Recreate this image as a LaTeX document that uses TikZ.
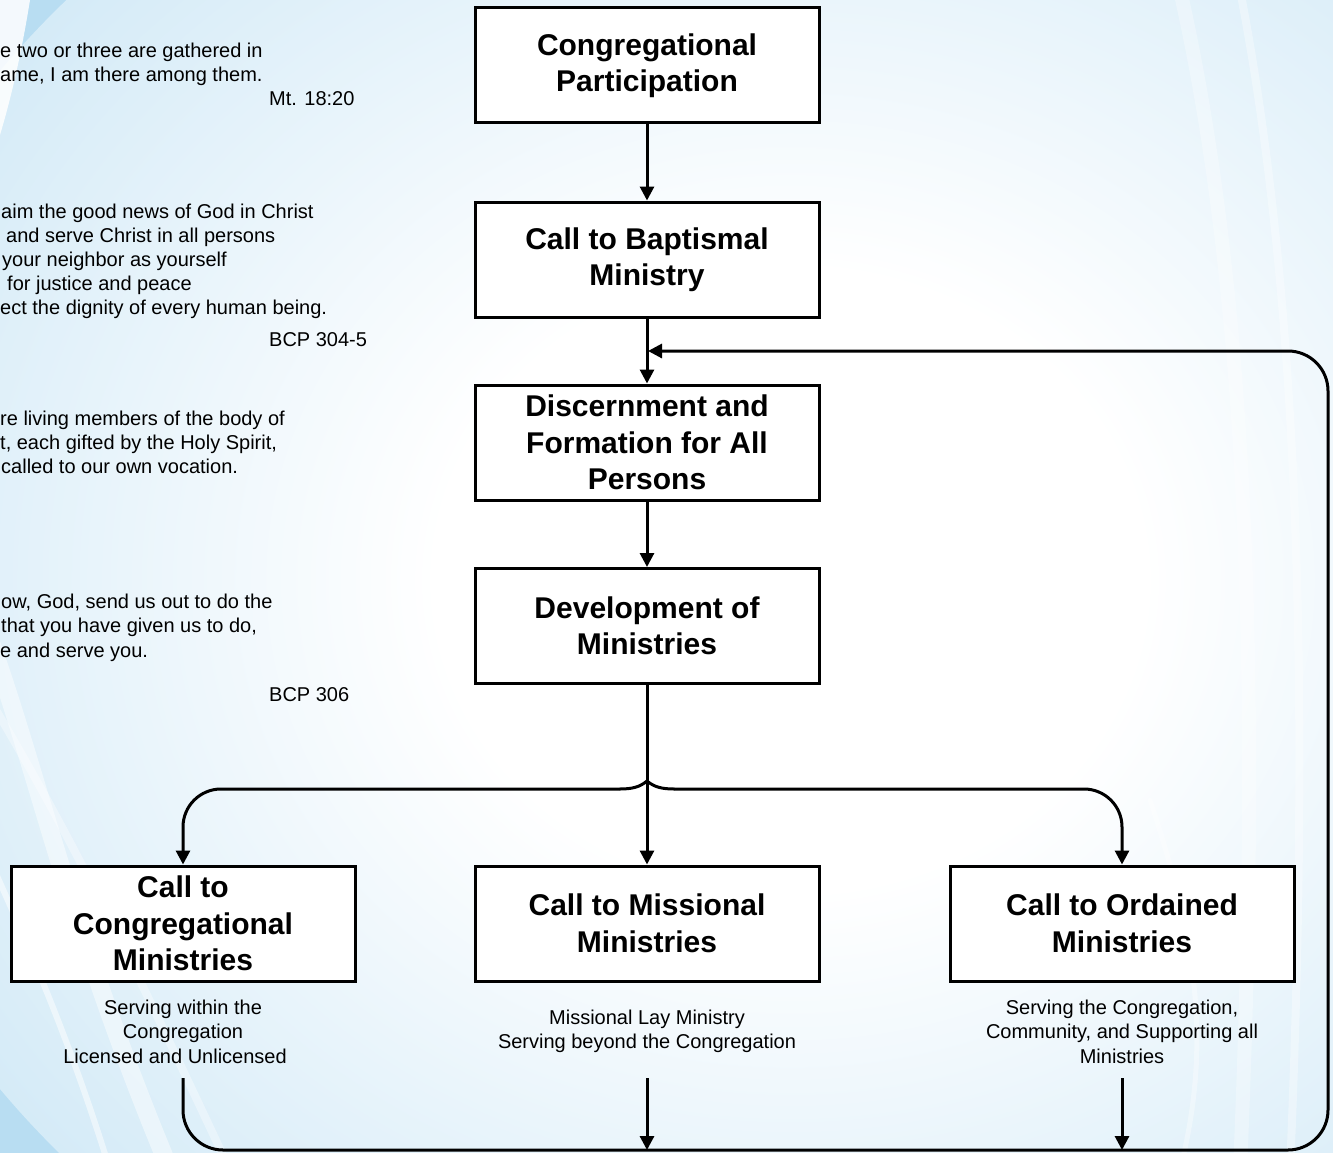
\documentclass[tikz,border=0pt]{standalone}
\usepackage{fontspec}
\setmainfont{Liberation Sans}
\usetikzlibrary{arrows.meta}
\definecolor{bgblue}{RGB}{184,221,242}
\pgfdeclareradialshading{glow}{\pgfpoint{0bp}{0bp}}{color(0bp)=(white); color(9bp)=(white); color(36bp)=(bgblue); color(50bp)=(bgblue)}
\begin{document}
\begin{tikzpicture}[x=1pt,y=-1pt,
  box/.style={draw=black, line width=3pt, fill=white, minimum width=344pt, minimum height=115pt, inner sep=0pt, align=center, font=\fontsize{30}{36.5}\selectfont\bfseries},
  sub/.style={align=center, inner sep=0pt, font=\fontsize{20}{24.4}\selectfont},
  quote/.style={anchor=base west, inner sep=0pt, font=\fontsize{20}{24}\selectfont},
  link/.style={line width=3pt, draw=black},
  arr/.style={link, -{Triangle[width=14pt,length=14pt]}},
  swoosh/.style={white, line cap=round}
]
\useasboundingbox (0,0) rectangle (1333,1153);
% background
\begin{scope}
\clip (0,0) rectangle (1333,1153);
\fill[bgblue] (0,0) rectangle (1333,1153);
\shade[shading=glow] (790,580) ellipse [x radius=980pt, y radius=860pt];
\fill[white, opacity=0.85] (0,0) -- (30,0) .. controls (22,50) and (12,95) .. (0,135) -- cycle;
\draw[swoosh, line width=18pt, opacity=0.45] (-10,640) .. controls (40,780) and (70,930) .. (170,1170);
\draw[swoosh, line width=6pt, opacity=0.5] (-10,860) .. controls (30,950) and (70,1040) .. (110,1170);
\draw[swoosh, line width=8pt, opacity=0.35] (-10,700) .. controls (80,850) and (150,1000) .. (230,1170);
\draw[swoosh, line width=14pt, opacity=0.3] (1180,-10) .. controls (1250,300) and (1260,700) .. (1240,1170);
\draw[swoosh, line width=8pt, opacity=0.35] (1240,-10) .. controls (1300,300) and (1310,700) .. (1290,1170);
\draw[swoosh, line width=5pt, opacity=0.35] (1150,800) .. controls (1200,950) and (1210,1050) .. (1180,1170);
\end{scope}
% quotes
\node[quote] (qa1) at (0,58) {e two or three are gathered in};
\node[quote] (qa2) at (0,82) {ame, I am there among them.};
\node[quote] (qa3) at (269,106) {Mt. 18:20};
\node[quote] (qb1) at (1,218) {aim the good news of God in Christ};
\node[quote] (qb2) at (6,242) {and serve Christ in all persons};
\node[quote] (qb3) at (2,266) {your neighbor as yourself};
\node[quote] (qb4) at (7,290) {for justice and peace};
\node[quote] (qb5) at (0,314) {ect the dignity of every human being.};
\node[quote] (qb6) at (269,346) {BCP 304-5};
\node[quote] (qc1) at (0,425) {re living members of the body of};
\node[quote] (qc2) at (0,449) {t, each gifted by the Holy Spirit,};
\node[quote] (qc3) at (1,473) {called to our own vocation.};
\node[quote] (qd1) at (1,608) {ow, God, send us out to do the};
\node[quote] (qd2) at (1,632) {that you have given us to do,};
\node[quote] (qd3) at (0,657) {e and serve you.};
\node[quote] (qd4) at (269,701) {BCP 306};
% boxes
\node[box] (b1) at (647,65.5) {Congregational\\Participation};
\node[box] (b2) at (647,259.5) {Call to Baptismal\\Ministry};
\node[box] (b3) at (647,442.5) {Discernment and\\Formation for All\\Persons};
\node[box] (b4) at (647,626) {Development of\\Ministries};
\node[box] (b5) at (183,923.5) {Call to\\Congregational\\Ministries};
\node[box] (b6) at (647,923.5) {Call to Missional\\Ministries};
\node[box] (b7) at (1122,923.5) {Call to Ordained\\Ministries};
% sub texts
\node[sub] (s5) at (183,1031.5) {Serving within the\\Congregation\\Licensed and Unlicensed\hspace*{16pt}};
\node[sub] (s6) at (647,1031.5) {Missional Lay Ministry\\Serving beyond the Congregation};
\node[sub] (s7) at (1122,1031.5) {Serving the Congregation,\\Community, and Supporting all\\Ministries};
% coordinates
\coordinate (tip) at (647,781);
\coordinate (bl) at (620,789);
\coordinate (br) at (674,789);
\coordinate (l5) at (183,1078);
\coordinate (l6) at (647,1078);
\coordinate (l7) at (1122,1078);
\coordinate (e6) at (647,1150);
\coordinate (e7) at (1122,1150);
\coordinate (fb) at (648,351);
% connectors
\draw[arr] (b1) -- (b2);
\draw[arr] (b2) -- (b3);
\draw[arr] (b3) -- (b4);
\draw[arr] (b4) -- (b6);
\draw[link, line cap=round] (tip) .. controls (640,787) and (632,789) .. (bl);
\draw[link, line cap=round] (tip) .. controls (654,787) and (662,789) .. (br);
\draw[arr, rounded corners=38pt] (bl) -- (183,789) -- (b5.north);
\draw[arr, rounded corners=38pt] (br) -- (1122,789) -- (b7.north);
\draw[arr, rounded corners=40pt] (l5) -- (183,1150) -- (1328,1150) -- (1328,351) -- (fb);
\draw[arr] (l6) -- (e6);
\draw[arr] (l7) -- (e7);
\end{tikzpicture}
\end{document}
